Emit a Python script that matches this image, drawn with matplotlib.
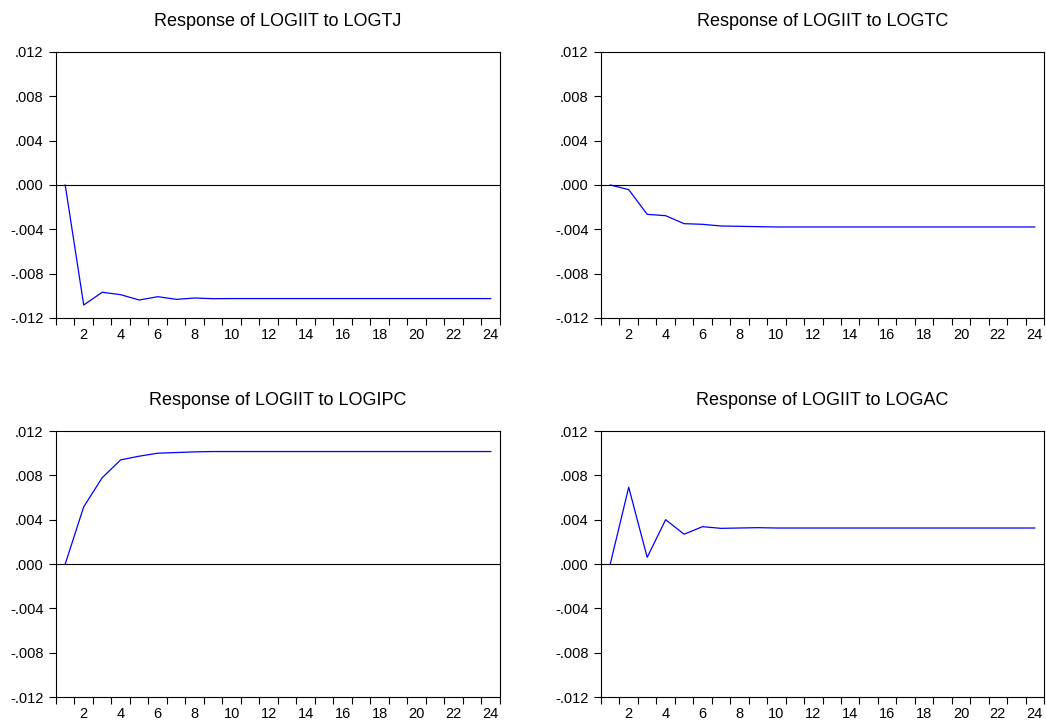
import numpy as np
import matplotlib
matplotlib.use('Agg')
import matplotlib.pyplot as plt
from matplotlib.ticker import FuncFormatter, FixedLocator

plt.rcParams['font.family'] = ['Liberation Sans', 'DejaVu Sans']

periods = list(range(1, 25))

# impulse responses
resp_tj = [0.0, -0.01083, -0.00968, -0.0099, -0.01038, -0.01008, -0.01032, -0.0102,
           -0.01026, -0.01025, -0.01025, -0.01025, -0.01025, -0.01025, -0.01025, -0.01025,
           -0.01025, -0.01025, -0.01025, -0.01025, -0.01025, -0.01025, -0.01025, -0.01025]
resp_tc = [0.0, -0.00042, -0.00265, -0.00277, -0.00349, -0.00355, -0.0037, -0.00373,
           -0.00376, -0.00379, -0.00379, -0.00379, -0.00379, -0.00379, -0.00379, -0.00379,
           -0.00379, -0.00379, -0.00379, -0.00379, -0.00379, -0.00379, -0.00379, -0.00379]
resp_ipc = [0.0, 0.00516, 0.00779, 0.0094, 0.00973, 0.0100, 0.01006, 0.01012,
            0.01015, 0.01015, 0.01015, 0.01015, 0.01015, 0.01015, 0.01015, 0.01015,
            0.01015, 0.01015, 0.01015, 0.01015, 0.01015, 0.01015, 0.01015, 0.01015]
resp_ac = [0.0, 0.00693, 0.0006, 0.0040, 0.00269, 0.00337, 0.00322, 0.00325,
           0.00328, 0.00325, 0.00325, 0.00325, 0.00325, 0.00325, 0.00325, 0.00325,
           0.00325, 0.00325, 0.00325, 0.00325, 0.00325, 0.00325, 0.00325, 0.00325]

titles = ['Response of LOGIIT to LOGTJ', 'Response of LOGIIT to LOGTC',
          'Response of LOGIIT to LOGIPC', 'Response of LOGIIT to LOGAC']
series = [resp_tj, resp_tc, resp_ipc, resp_ac]

y_ticks = [-0.012, -0.008, -0.004, 0.0, 0.004, 0.008, 0.012]


def fmt(v, pos):
    s = '%.3f' % v
    if s.startswith('-0'):
        return '-' + s[2:]
    if s.startswith('0'):
        return s[1:]
    return s


fig = plt.figure(figsize=(10.46, 7.22), dpi=100)

# [left, bottom, width, height]
boxes = [[0.0535, 0.5596, 0.4245, 0.3684],
         [0.5746, 0.5596, 0.4235, 0.3684],
         [0.0535, 0.0346, 0.4245, 0.3684],
         [0.5746, 0.0346, 0.4235, 0.3684]]

for box, title, vals in zip(boxes, titles, series):
    ax = fig.add_axes(box)
    ax.plot(periods, vals, color='#0000ff', lw=0.9)
    ax.axhline(0, color='black', lw=0.8)
    ax.set_xlim(0.5, 24.5)
    ax.set_ylim(-0.012, 0.012)
    ax.set_yticks(y_ticks)
    ax.yaxis.set_major_formatter(FuncFormatter(fmt))
    ax.set_xticks(range(2, 25, 2))
    ax.xaxis.set_minor_locator(FixedLocator(np.arange(0.5, 25, 1.0)))
    ax.tick_params(axis='x', which='major', length=0, pad=7, labelsize=10.5)
    ax.tick_params(axis='x', which='minor', length=5, width=0.8, direction='out')
    ax.tick_params(axis='y', which='major', length=5, width=0.8, direction='out', labelsize=10.5, pad=4)
    ax.tick_params(top=False, right=False)
    for sp in ax.spines.values():
        sp.set_linewidth(0.8)
    ax.set_title(title, fontsize=13, pad=19)

plt.savefig('out.png', dpi=100)
